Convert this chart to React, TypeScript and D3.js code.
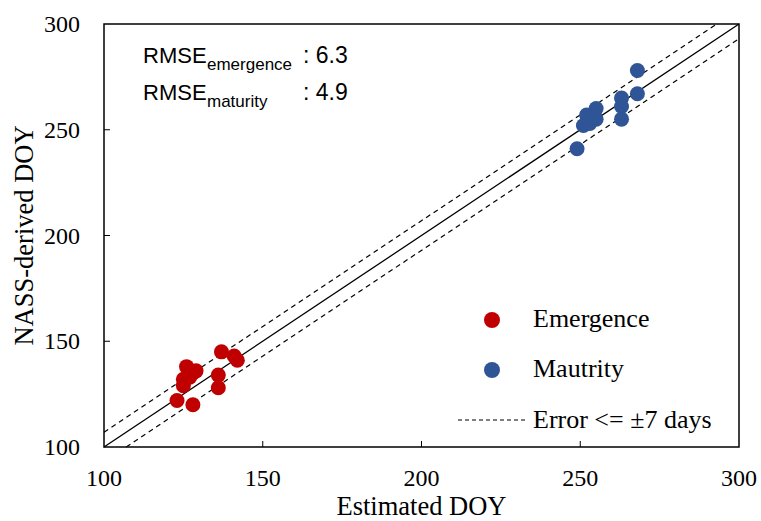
import React from "react";
import * as d3 from "d3";

const emergenceEst = [137, 141, 142, 126, 128, 129, 125, 127, 125, 136, 136, 123, 128];
const emergenceObs = [145, 143, 141, 138, 135, 136, 132, 133, 129, 134, 128, 122, 120];
const maturityEst = [268, 268, 263, 263, 263, 255, 252, 255, 253, 251, 249];
const maturityObs = [278, 267, 265, 261, 255, 260, 257, 255, 253, 252, 241];
const xTicks = [100, 150, 200, 250, 300];
const yTicks = [100, 150, 200, 250, 300];
const errorBand = 7;

const W = 761, H = 521;
const L = 104, R = 739, T = 24, B = 447;
const RED = "#c00000";
const BLUE = "#2f5597";
const SERIF = "'Liberation Serif', 'Times New Roman', serif";
const SANS = "'Liberation Sans', Arial, sans-serif";

export default function App() {
  const x = d3.scaleLinear().domain([100, 300]).range([L, R]);
  const y = d3.scaleLinear().domain([100, 300]).range([B, T]);
  const line = d3.line<[number, number]>().x(d => x(d[0])).y(d => y(d[1]));
  const oneToOne: [number, number][] = [[100, 100], [300, 300]];
  const upper: [number, number][] = [[100, 100 + errorBand], [300 - errorBand, 300]];
  const lower: [number, number][] = [[100 + errorBand, 100], [300, 300 - errorBand]];

  return (
    <svg width={W} height={H} style={{ position: "absolute", left: 0, top: 0, background: "#fff" }}>
      <rect x={0} y={0} width={W} height={H} fill="#fff" />
      <path d={line(oneToOne) || ""} stroke="#000" strokeWidth={1.3} fill="none" />
      <path d={line(upper) || ""} stroke="#000" strokeWidth={1.2} strokeDasharray="5,4" fill="none" />
      <path d={line(lower) || ""} stroke="#000" strokeWidth={1.2} strokeDasharray="5,4" fill="none" />
      {emergenceEst.map((e, i) => (
        <circle key={"e" + i} cx={x(e)} cy={y(emergenceObs[i])} r={7.5} fill={RED} />
      ))}
      {maturityEst.map((e, i) => (
        <circle key={"m" + i} cx={x(e)} cy={y(maturityObs[i])} r={7.5} fill={BLUE} />
      ))}
      <rect x={L} y={T} width={R - L} height={B - T} fill="none" stroke="#000" strokeWidth={1.5} />
      {xTicks.slice(1, -1).map(t => (
        <line key={"xt" + t} x1={x(t)} x2={x(t)} y1={B} y2={B - 6} stroke="#000" strokeWidth={1} />
      ))}
      {yTicks.slice(1, -1).map(t => (
        <line key={"yt" + t} x1={L} x2={L + 6} y1={y(t)} y2={y(t)} stroke="#000" strokeWidth={1} />
      ))}
      {xTicks.map(t => (
        <text key={"xl" + t} x={x(t)} y={B + 39} textAnchor="middle" fontFamily={SERIF} fontSize={24}>{t}</text>
      ))}
      {yTicks.map(t => (
        <text key={"yl" + t} x={80} y={y(t) + 8} textAnchor="end" fontFamily={SERIF} fontSize={24}>{t}</text>
      ))}
      <text x={(L + R) / 2} y={515} textAnchor="middle" fontFamily={SERIF} fontSize={26.5}>Estimated DOY</text>
      <text transform={`translate(33, ${(T + B) / 2}) rotate(-90)`} textAnchor="middle" fontFamily={SERIF} fontSize={26.5}>NASS-derived DOY</text>
      <g fontFamily={SANS} fill="#000">
        <text x={143} y={63} fontSize={22}>RMSE</text>
        <text x={207} y={70} fontSize={17}>emergence</text>
        <text x={303} y={63} fontSize={23}>: 6.3</text>
        <text x={143} y={100} fontSize={22}>RMSE</text>
        <text x={207} y={107} fontSize={17}>maturity</text>
        <text x={303} y={100} fontSize={23}>: 4.9</text>
      </g>
      <circle cx={492} cy={320} r={8} fill={RED} />
      <text x={533} y={327} fontFamily={SERIF} fontSize={26}>Emergence</text>
      <circle cx={492} cy={370} r={8} fill={BLUE} />
      <text x={533} y={377} fontFamily={SERIF} fontSize={26}>Mautrity</text>
      <line x1={458} x2={525} y1={420} y2={420} stroke="#000" strokeWidth={1} strokeDasharray="4,3" />
      <text x={533} y={428} fontFamily={SERIF} fontSize={26}>Error &lt;= ±7 days</text>
    </svg>
  );
}
